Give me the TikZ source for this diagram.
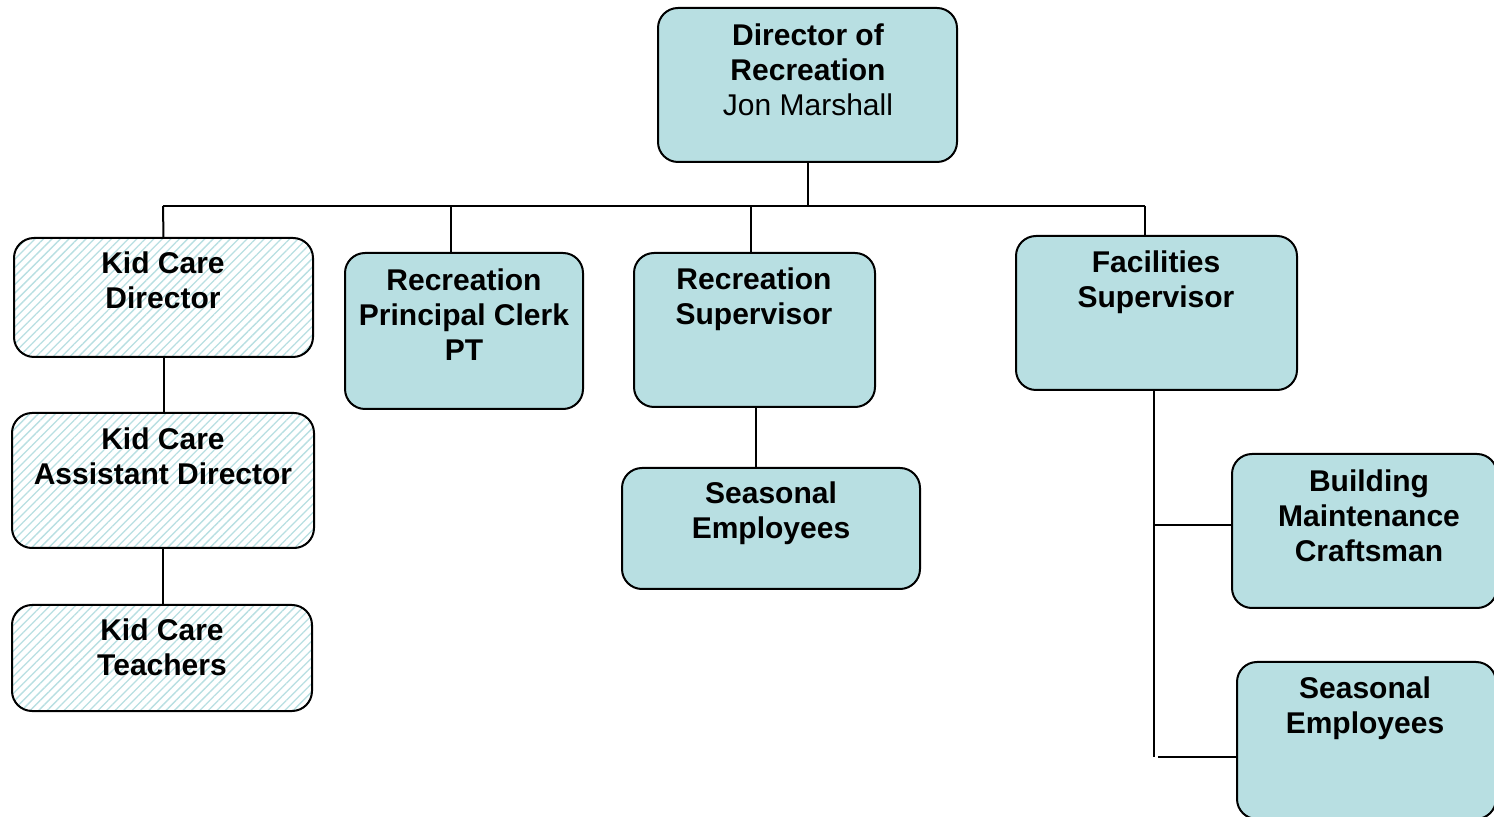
\documentclass[tikz,border=0pt]{standalone}
\usepackage{fontspec}
\setmainfont{Liberation Sans}
\usetikzlibrary{fit,patterns.meta}
\definecolor{boxfill}{HTML}{B8DFE2}
\tikzset{
  unit/.style={draw=black, line width=1pt, rounded corners=10pt, fill=boxfill, inner sep=0pt},
  hatched/.style={draw=black, line width=1pt, rounded corners=10pt, inner sep=0pt,
    preaction={fill=white},
    pattern={Lines[angle=45,distance=3pt,line width=0.65pt]}, pattern color=boxfill},
  title/.style={font=\fontsize{15}{17.5}\selectfont\bfseries, align=center, anchor=north, inner sep=0pt},
  link/.style={line width=1pt},
}
\begin{document}
\begin{tikzpicture}[x=0.5pt,y=-0.5pt]
\useasboundingbox (0,0) rectangle (1494,817);

% boxes
\node[unit, fit={(658,8) (957,162)}] (dir) {};
\node[hatched, fit={(14,238) (313,357)}] (kcd) {};
\node[hatched, fit={(12,413) (314,548)}] (kca) {};
\node[hatched, fit={(12,605) (312,711)}] (kct) {};
\node[unit, fit={(345,253) (583,409)}] (clk) {};
\node[unit, fit={(634,253) (875,407)}] (rsup) {};
\node[unit, fit={(622,468) (920,589)}] (seas) {};
\node[unit, fit={(1016,236) (1297,390)}] (fac) {};
\node[unit, fit={(1232,454) (1497,608)}] (bmc) {};
\node[unit, fit={(1237,662) (1496,819)}] (seasf) {};

% labels
\node[title] (dirT) at (808,23) {Director of\\Recreation\\\mdseries Jon Marshall};
\node[title] (kcdT) at (163,251) {Kid Care\\Director};
\node[title] (kcaT) at (163,427) {Kid Care\\Assistant Director};
\node[title] (kctT) at (162,618) {Kid Care\\Teachers};
\node[title] (clkT) at (464,268) {Recreation\\Principal Clerk\\PT};
\node[title] (rsupT) at (754,267) {Recreation\\Supervisor};
\node[title] (seasT) at (771,481) {Seasonal\\Employees};
\node[title] (facT) at (1156,250) {Facilities\\Supervisor};
\node[title] (bmcT) at (1369,469) {Building\\Maintenance\\Craftsman};
\node[title] (seasfT) at (1365,676) {Seasonal\\Employees};

% bus and drops
\coordinate (busL) at (163,206);
\coordinate (busR) at (1145,206);
\coordinate (clkDrop) at (451,206);
\coordinate (rsupDrop) at (751,206);
\draw[link] (busL) -- (busR);
\draw[link] (dir.south) -- (dir.south |- busL);
\draw[link] (busL) -- (kcd.north);
\draw[link] (clkDrop) -- (clkDrop |- clk.north);
\draw[link] (rsupDrop) -- (rsupDrop |- rsup.north);
\draw[link] (busR) -- (busR |- fac.north);

% kid care chain
\draw[link] (kcd.south) -- (kcd.south |- kca.north);
\draw[link] (kca.south) -- (kca.south |- kct.north);

% recreation supervisor to seasonal staff
\coordinate (rsupLink) at (756,407);
\draw[link] (rsupLink) -- (rsupLink |- seas.north);

% facilities branch
\coordinate (facLink) at (1154,390);
\coordinate (facEnd) at (1154,757);
\coordinate (bmcTap) at (1154,525);
\coordinate (seasfTap) at (1158,757);
\draw[link] (facLink) -- (facEnd);
\draw[link] (bmcTap) -- (bmc.west |- bmcTap);
\draw[link] (seasfTap) -- (seasf.west |- seasfTap);
\end{tikzpicture}
\end{document}
